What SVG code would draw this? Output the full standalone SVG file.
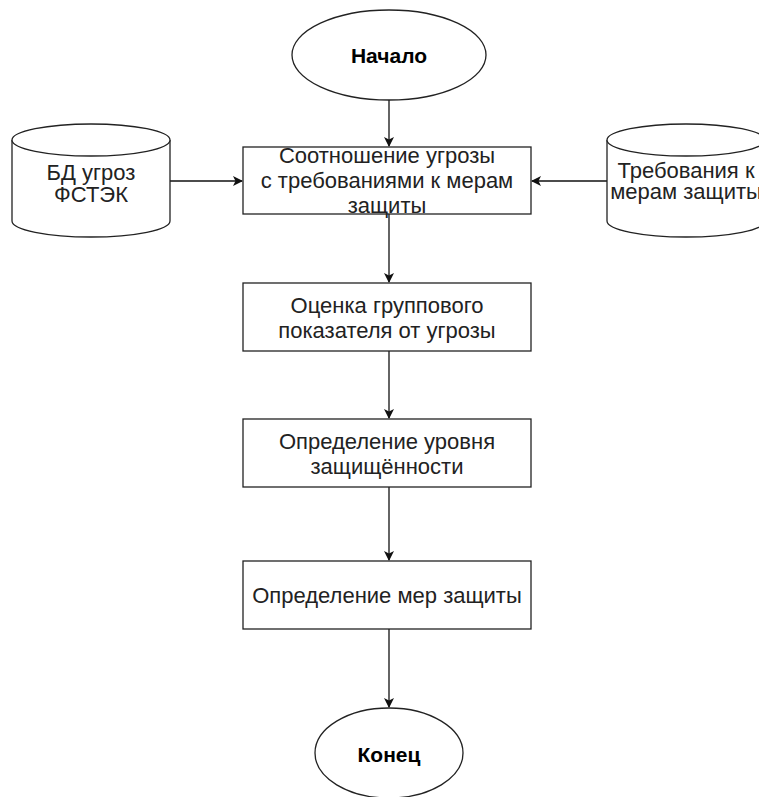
<svg xmlns="http://www.w3.org/2000/svg" width="759" height="797" viewBox="0 0 759 797">
<style>
.s{fill:#fff;stroke:#222;stroke-width:1.3}
.t{font-family:"Liberation Sans",Arial,sans-serif;font-size:22px;fill:#222;text-anchor:middle;dominant-baseline:central}
.b{font-weight:bold;font-size:21px;fill:#000}
.c{stroke:#111;stroke-width:1.3;fill:none;marker-end:url(#ah)}
</style>
<defs>
<marker id="ah" markerWidth="10" markerHeight="10" refX="9" refY="5" orient="auto" markerUnits="userSpaceOnUse">
<path d="M0,0 L10,5 L0,10 L2.5,5 Z" fill="#111"/>
</marker>
</defs>
<rect width="759" height="797" fill="#fff"/>
<g id="connectors">
<line class="c" x1="389" y1="100" x2="389" y2="146"/>
<line class="c" x1="389" y1="214" x2="389" y2="282"/>
<line class="c" x1="389" y1="351" x2="389" y2="418"/>
<line class="c" x1="389" y1="487" x2="389" y2="560"/>
<line class="c" x1="389" y1="629" x2="389" y2="707"/>
<line class="c" x1="170" y1="181" x2="242" y2="181"/>
<line class="c" x1="607" y1="181" x2="532" y2="181"/>
</g>
<g id="start">
<ellipse class="s" cx="389" cy="55" rx="97" ry="45"/>
<text class="t b" x="389" y="55">Начало</text>
</g>
<g id="box1">
<rect class="s" x="243" y="147" width="288" height="67"/>
<text class="t" x="387" y="155">Соотношение угрозы</text>
<text class="t" x="387" y="180">с требованиями к мерам</text>
<text class="t" x="387" y="205">защиты</text>
</g>
<g id="db1">
<path class="s" d="M12,140 A79,16 0 0 1 170,140 L170,221 A79,16 0 0 1 12,221 Z"/>
<path class="s" d="M12,140 A79,16 0 0 0 170,140"/>
<text class="t" x="91" y="172">БД угроз</text>
<text class="t" x="91" y="194">ФСТЭК</text>
</g>
<g id="db2">
<path class="s" d="M607,140 A79,16 0 0 1 765,140 L765,221 A79,16 0 0 1 607,221 Z"/>
<path class="s" d="M607,140 A79,16 0 0 0 765,140"/>
<text class="t" x="686" y="170">Требования к</text>
<text class="t" x="686" y="191">мерам защиты</text>
</g>
<g id="box2">
<rect class="s" x="243" y="283" width="288" height="68"/>
<text class="t" x="387" y="305">Оценка группового</text>
<text class="t" x="387" y="330">показателя от угрозы</text>
</g>
<g id="box3">
<rect class="s" x="243" y="419" width="288" height="68"/>
<text class="t" x="387" y="441">Определение уровня</text>
<text class="t" x="387" y="466">защищённости</text>
</g>
<g id="box4">
<rect class="s" x="243" y="561" width="288" height="68"/>
<text class="t" x="387" y="595">Определение мер защиты</text>
</g>
<g id="end">
<ellipse class="s" cx="389" cy="753" rx="74" ry="45"/>
<text class="t b" x="389" y="754">Конец</text>
</g>
</svg>
